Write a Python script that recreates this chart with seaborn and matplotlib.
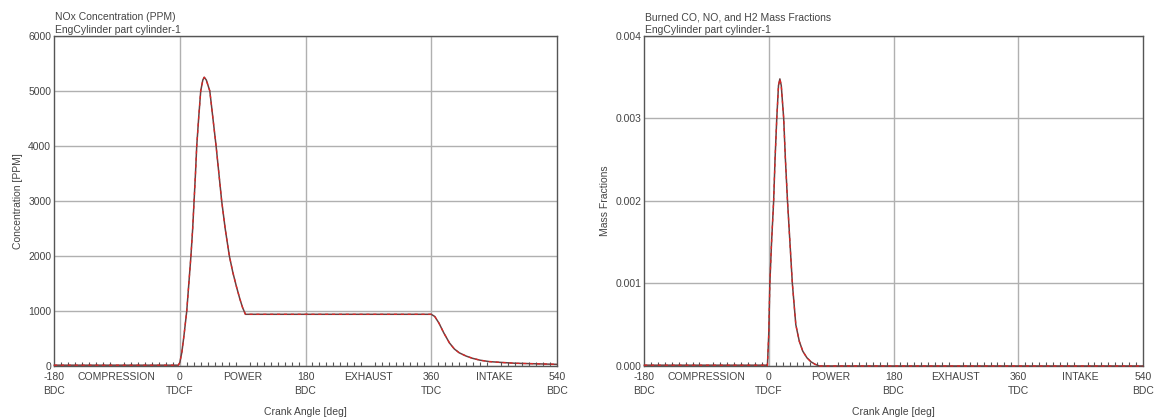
import matplotlib
matplotlib.use("Agg")
import matplotlib.pyplot as plt
import seaborn as sns
import pandas as pd
from matplotlib.ticker import MultipleLocator

# ---- data ----
nox_angle = [-180, -10, -2, 0, 3, 6, 10, 13, 16, 18.5, 20.5, 22.5, 24.3, 27, 30, 33, 35, 38, 41,
             43, 47.5, 52, 56, 60, 65, 71, 76, 81, 86, 90, 94, 360, 365, 371, 378, 386, 393,
             400, 410, 419, 430, 443, 460, 480, 510, 540]
nox_ppm = [15, 15, 15, 60, 250, 550, 1000, 1500, 2000, 2500, 3000, 3500, 4000, 4500, 5000, 5200,
           5250, 5200, 5080, 5000, 4500, 4000, 3500, 3000, 2500, 2000, 1700, 1450, 1220, 1060,
           940, 940, 900, 780, 600, 420, 310, 240, 180, 140, 105, 80, 65, 50, 40, 30]

mf_angle = [-180, -3, -2, 0, 1.5, 4, 7, 9, 11.5, 14, 16, 18, 21.5, 24, 27, 30.5, 34, 39, 44, 49,
            55, 61, 67, 73, 540]
mf_value = [0.00001, 0.00001, 0.0, 0.0004, 0.001, 0.0015, 0.002, 0.0025, 0.003, 0.0034, 0.00348,
            0.0034, 0.003, 0.0025, 0.002, 0.0015, 0.001, 0.0005, 0.0003, 0.00018, 0.0001,
            0.00005, 0.00002, 0.0, 0.0]

major_ticks = [-180, -90, 0, 90, 180, 270, 360, 450, 540]
major_labels = ["-180\nBDC", "COMPRESSION", "0\nTDCF", "POWER", "180\nBDC", "EXHAUST",
                "360\nTDC", "INTAKE", "540\nBDC"]
vgrid = [0, 180, 360]

nox_yticks = [0, 1000, 2000, 3000, 4000, 5000, 6000]
mf_yticks = [0.000, 0.001, 0.002, 0.003, 0.004]
mf_ylabels = ["0.000", "0.001", "0.002", "0.003", "0.004"]

# ---- style ----
sns.set_theme(style="white")
plt.rcParams['font.family'] = ['Liberation Sans', 'DejaVu Sans']
TXT = "#444444"
FS = 7.5

fig = plt.figure(figsize=(11.59, 4.19), dpi=100)
ax1 = fig.add_axes([0.0466, 0.1265, 0.434, 0.7876])
ax2 = fig.add_axes([0.5557, 0.1265, 0.4305, 0.7876])

df1 = pd.DataFrame({"angle": nox_angle, "val": nox_ppm})
df2 = pd.DataFrame({"angle": mf_angle, "val": mf_value})


def style_axes(ax, df, yticks, ylabels, ylabel, title1, title2, ylim):
    ax.set_xlim(-180, 540)
    ax.set_ylim(*ylim)
    ax.set_yticks(yticks)
    ax.set_yticklabels(ylabels, fontsize=FS, color=TXT)
    ax.set_xticks(major_ticks)
    ax.set_xticklabels(major_labels, fontsize=FS, color=TXT, linespacing=1.6)
    ax.xaxis.set_minor_locator(MultipleLocator(10))
    ax.tick_params(axis='x', which='major', length=0, pad=4)
    ax.tick_params(axis='x', which='minor', direction='in', length=3, width=0.8,
                   color='#555555', bottom=True)
    ax.tick_params(axis='y', which='major', length=0, pad=2)
    ax.yaxis.grid(True, color='#b0b0b0', linewidth=1.0)
    for v in vgrid:
        ax.axvline(v, color='#b0b0b0', linewidth=1.0, zorder=0.5)
    ax.set_axisbelow(True)
    sns.lineplot(data=df, x="angle", y="val", ax=ax, color='#6b4040', linewidth=1.1,
                 zorder=3, clip_on=False)
    sns.lineplot(data=df, x="angle", y="val", ax=ax, color='#e02525', linewidth=0.9,
                 dashes=False, zorder=4, clip_on=False)
    ax.lines[-1].set_dashes((2.5, 3))
    for s in ax.spines.values():
        s.set_color('#555555')
        s.set_linewidth(1.0)
    ax.set_xlabel("Crank Angle [deg]", fontsize=FS, color=TXT, labelpad=8)
    ax.set_ylabel(ylabel, fontsize=FS, color=TXT)
    ax.annotate(title2, xy=(0, 1), xycoords='axes fraction', xytext=(1, 0.5),
                textcoords='offset points', va='bottom', ha='left', fontsize=FS, color=TXT)
    ax.annotate(title1, xy=(0, 1), xycoords='axes fraction', xytext=(1, 10),
                textcoords='offset points', va='bottom', ha='left', fontsize=FS, color=TXT)


style_axes(ax1, df1, nox_yticks, [str(v) for v in nox_yticks], "Concentration [PPM]",
           "NOx Concentration (PPM)", "EngCylinder part cylinder-1", (0, 6000))
style_axes(ax2, df2, mf_yticks, mf_ylabels, "Mass Fractions",
           "Burned CO, NO, and H2 Mass Fractions", "EngCylinder part cylinder-1", (0, 0.004))

fig.savefig("out.png", dpi=100)
